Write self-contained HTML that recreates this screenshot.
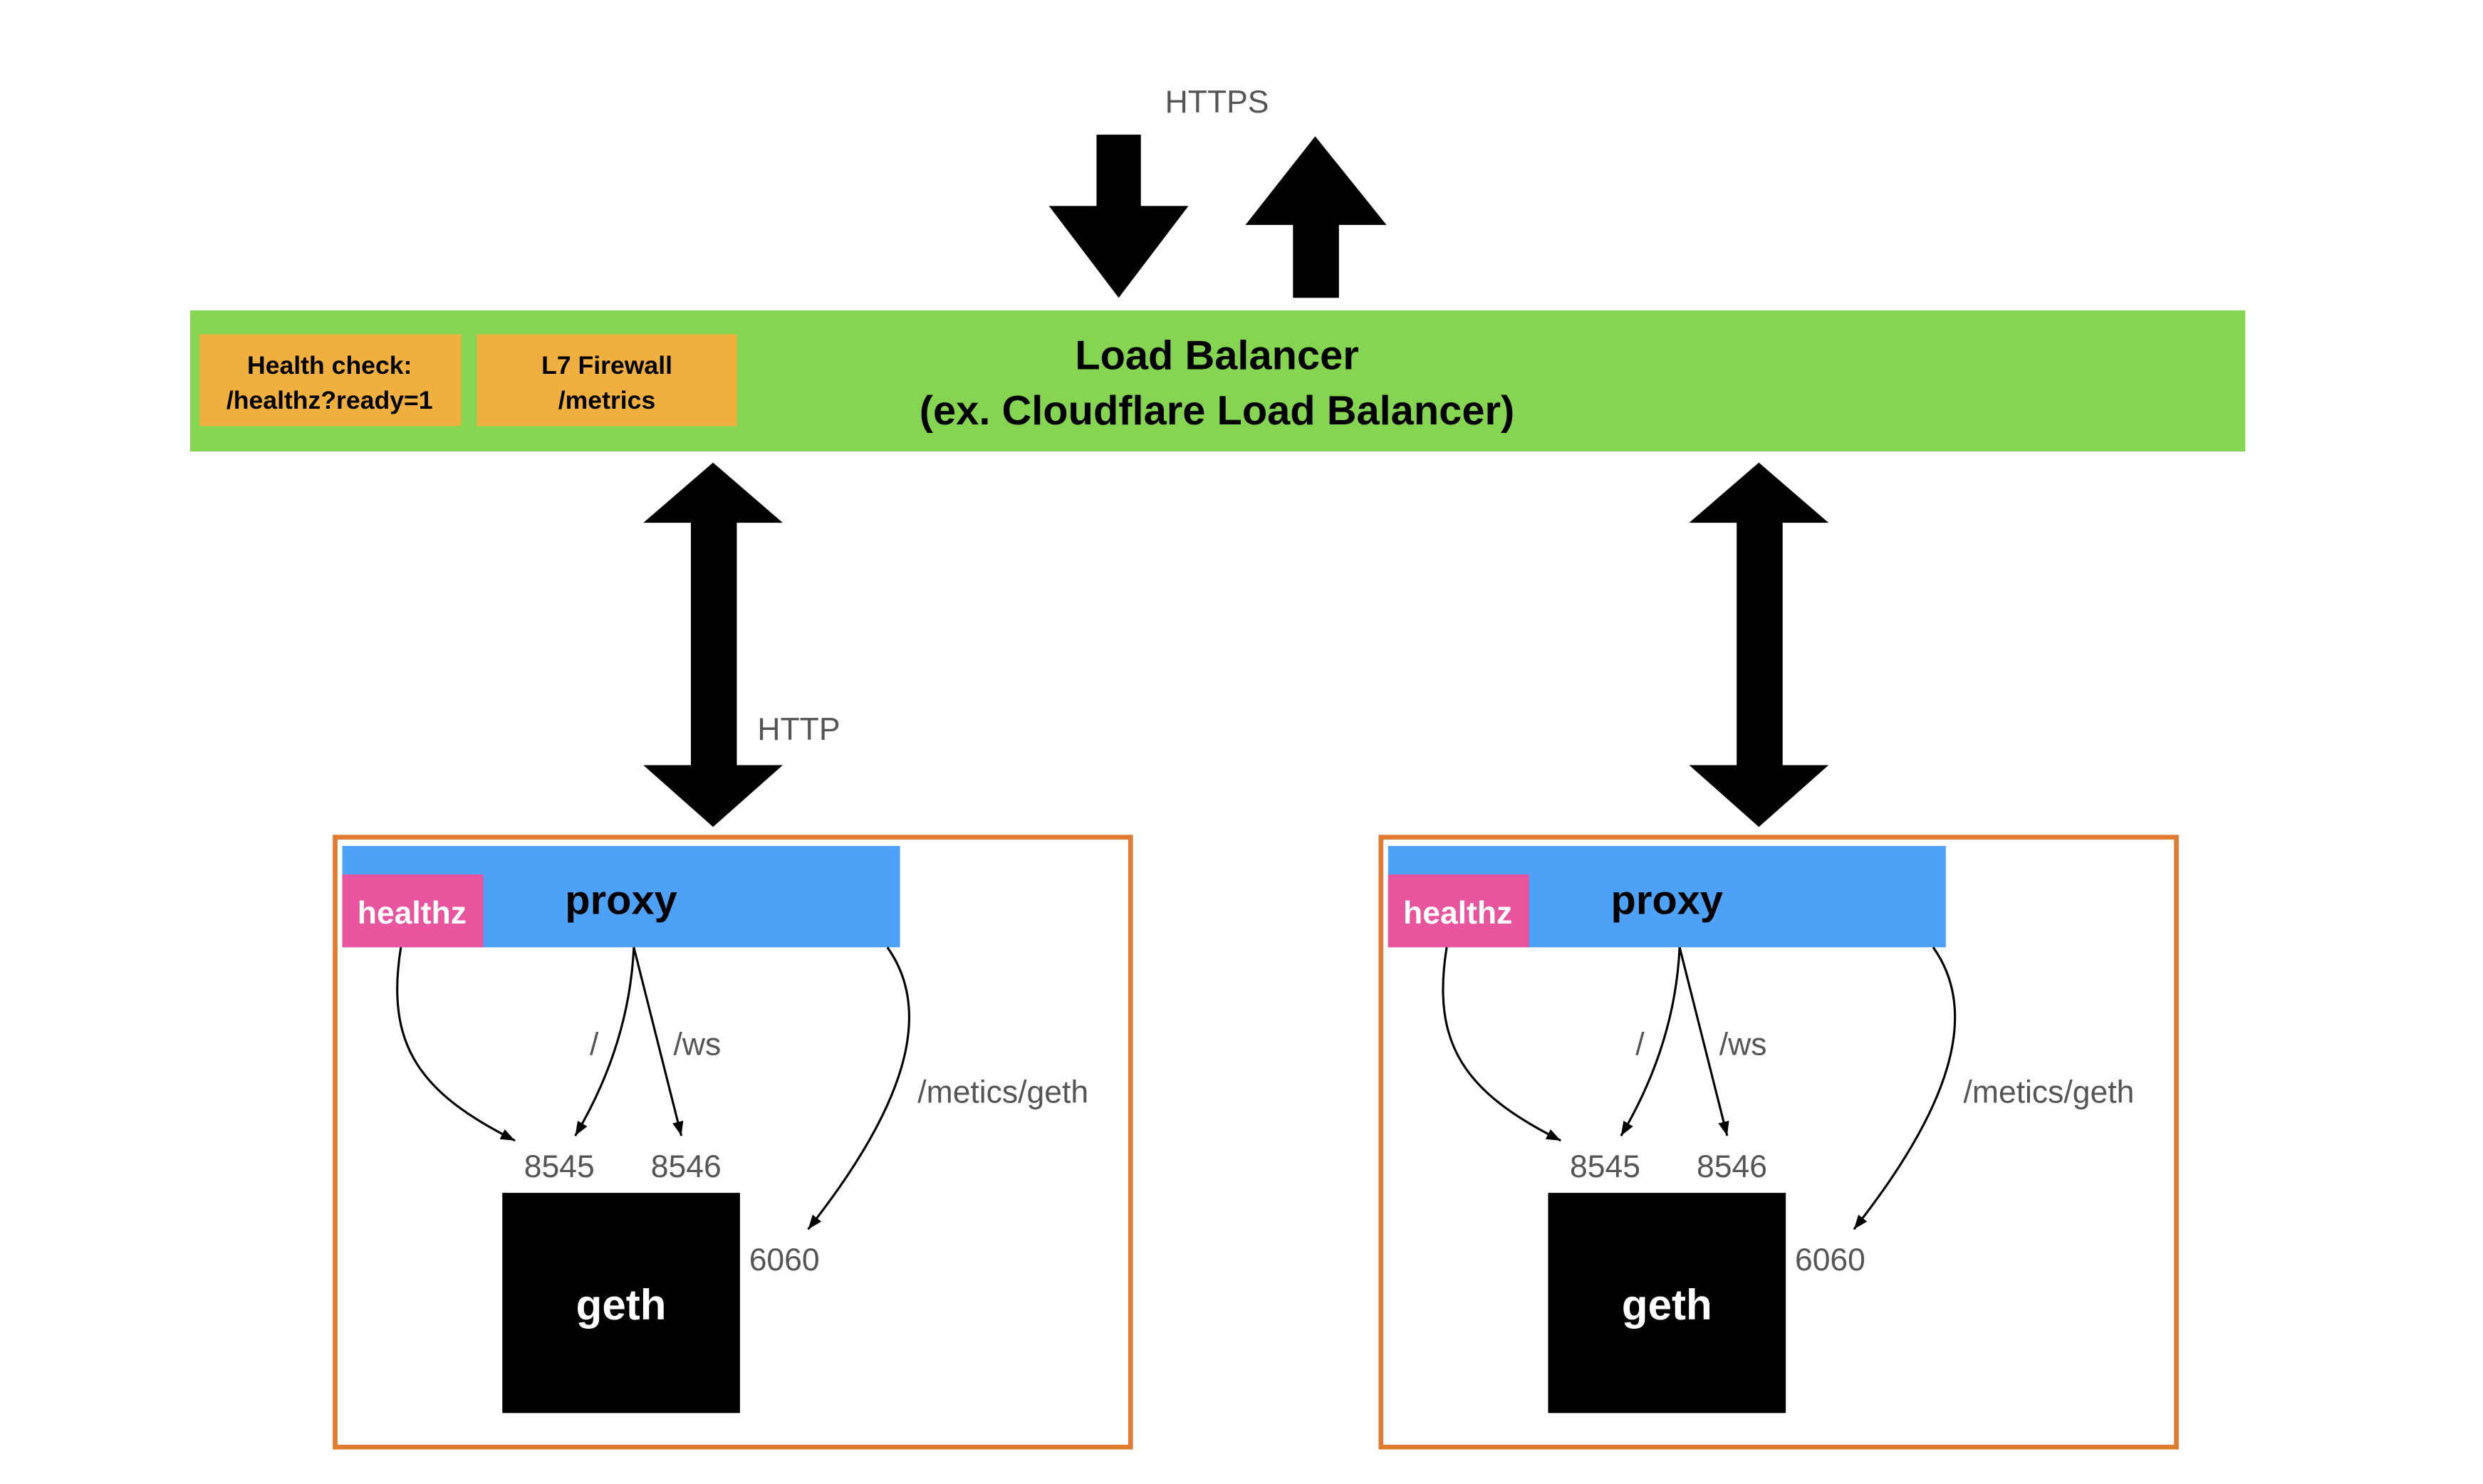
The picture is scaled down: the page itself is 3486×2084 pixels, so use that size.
<!DOCTYPE html>
<html><head><meta charset="utf-8"><style>
html,body{margin:0;padding:0;background:#fff;width:3486px;height:2084px;overflow:hidden}
svg{display:block}
text{font-family:"Liberation Sans",Arial,sans-serif}
</style></head><body>
<svg width="3486" height="2084" viewBox="0 0 1567 936.8" preserveAspectRatio="none" xmlns="http://www.w3.org/2000/svg">
<defs>
<marker id="ah" markerWidth="10" markerHeight="10" refX="9" refY="5" orient="auto" markerUnits="userSpaceOnUse">
<path d="M0,1.5 L9,5 L0,8.5 z" fill="#000"/>
</marker>
</defs>
<rect width="1567" height="936.8" fill="#fff"/>
<text x="768" y="71" font-size="20" fill="#555" text-anchor="middle">HTTPS</text>
<polygon points="692,85 720,85 720,130 750,130 706,188 662,130 692,130" fill="#000"/>
<polygon points="830,86 875,142 845,142 845,188 816,188 816,142 786,142" fill="#000"/>
<rect x="120" y="196" width="1297" height="89" fill="#86d552"/>
<rect x="126" y="211" width="165" height="58" fill="#efb03f"/>
<rect x="301" y="211" width="164" height="58" fill="#efb03f"/>
<text x="208" y="236" font-size="16" font-weight="bold" text-anchor="middle">Health check:</text>
<text x="208" y="258" font-size="16" font-weight="bold" text-anchor="middle">/healthz?ready=1</text>
<text x="383" y="236" font-size="16" font-weight="bold" text-anchor="middle">L7 Firewall</text>
<text x="383" y="258" font-size="16" font-weight="bold" text-anchor="middle">/metrics</text>
<text x="768" y="233" font-size="26" font-weight="bold" text-anchor="middle">Load Balancer</text>
<text x="768" y="268" font-size="26" font-weight="bold" text-anchor="middle">(ex. Cloudflare Load Balancer)</text>
<text x="478" y="467" font-size="20" fill="#555">HTTP</text>
<g id="grp">
<polygon points="450,292 494,330 465,330 465,483 494,483 450,522 406,483 436,483 436,330 406,330" fill="#000"/>
<rect x="211.5" y="528.5" width="502" height="385" fill="none" stroke="#e07b31" stroke-width="3"/>
<rect x="216" y="534" width="352" height="64" fill="#4da2f8"/>
<rect x="216" y="552" width="89" height="46" fill="#e8559e"/>
<text x="260" y="583" font-size="20" font-weight="bold" fill="#fff" text-anchor="middle">healthz</text>
<text x="392" y="577" font-size="26" font-weight="bold" text-anchor="middle">proxy</text>
<rect x="317" y="753" width="150" height="139" fill="#000"/>
<text x="392" y="833" font-size="27" font-weight="bold" fill="#fff" text-anchor="middle">geth</text>
<g font-size="20" fill="#555" text-anchor="middle">
<text x="353" y="743">8545</text>
<text x="433" y="743">8546</text>
<text x="495" y="802">6060</text>
<text x="375" y="666">/</text>
<text x="440" y="666">/ws</text>
<text x="633" y="696">/metics/geth</text>
</g>
<g fill="none" stroke="#000" stroke-width="1.4">
<path d="M253,598 C243,660 265,690 325,720" marker-end="url(#ah)"/>
<path d="M400,598 C398,640 385,680 363,717" marker-end="url(#ah)"/>
<path d="M400,598 L430,717" marker-end="url(#ah)"/>
<path d="M560,598 C590,640 570,700 510,776" marker-end="url(#ah)"/>
</g>
</g>
<use href="#grp" transform="translate(660,0)"/>
</svg>
</body></html>
